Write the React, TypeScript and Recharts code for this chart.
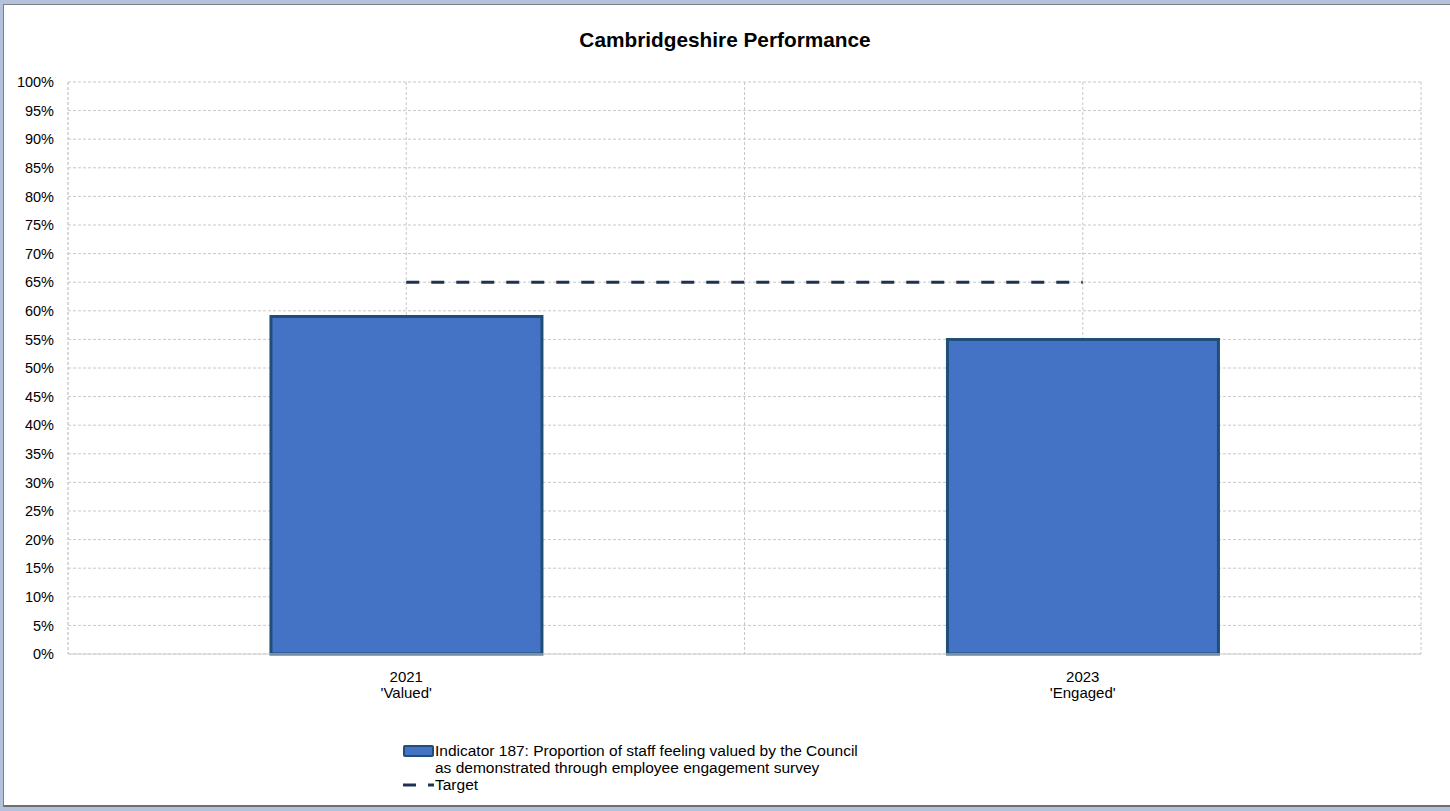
import React from 'react';
import { ComposedChart, Bar, Line, XAxis, YAxis, CartesianGrid } from 'recharts';

const categories = ["2021\n'Valued'", "2023\n'Engaged'"];
const indicatorValues = [59, 55];
const targetValues = [65, 65];
const yTicks = [0, 5, 10, 15, 20, 25, 30, 35, 40, 45, 50, 55, 60, 65, 70, 75, 80, 85, 90, 95, 100];
const gridPositions = [0, 0.5, 1, 1.5, 2];

const seriesNames = [
  'Indicator 187: Proportion of staff feeling valued by the Council',
  'as demonstrated through employee engagement survey',
  'Target',
];

const data = categories.map((c, i) => ({
  category: c,
  indicator: indicatorValues[i],
  target: targetValues[i],
  pos: i + 0.5,
}));

const FONT = '"Liberation Sans", Arial, sans-serif';
const BAR_FILL = '#4472C4';
const BAR_STROKE = '#1F4E79';
const TARGET = '#1F3251';

const XTick = (props: any) => {
  const { x, y, payload } = props;
  const lines = String(payload.value).split('\n');
  return (
    <g transform={`translate(${x},${y})`}>
      {lines.map((l, i) => (
        <text key={i} x={0} y={20 + i * 16} textAnchor="middle" fontSize={15} fill="#000" fontFamily={FONT}>
          {l}
        </text>
      ))}
    </g>
  );
};

const LegendBlock = () => (
  <div
    style={{
      position: 'absolute',
      left: 403,
      top: 742,
      fontFamily: FONT,
      fontSize: 15.5,
      color: '#000',
      lineHeight: '17px',
      width: 600,
    }}
  >
    <div style={{ display: 'flex', alignItems: 'center' }}>
      <span
        style={{
          display: 'inline-block',
          width: 27,
          height: 8,
          background: BAR_FILL,
          border: `2px solid ${BAR_STROKE}`,
          borderRadius: 2,
          marginRight: 1,
        }}
      />
      <span>{seriesNames[0]}</span>
    </div>
    <div style={{ paddingLeft: 32 }}>{seriesNames[1]}</div>
    <div style={{ display: 'flex', alignItems: 'center' }}>
      <svg width={32} height={10}>
        <line x1={0} y1={5} x2={31} y2={5} stroke={TARGET} strokeWidth={3} strokeDasharray="13 12" />
      </svg>
      <span>{seriesNames[2]}</span>
    </div>
  </div>
);

export default function App() {
  return (
    <div style={{ position: 'absolute', left: 0, top: 0, width: 1450, height: 811, background: '#b3c1dc' }}>
      <div
        style={{
          position: 'absolute',
          left: 3,
          top: 4,
          width: 1447,
          height: 803,
          background: '#fff',
          borderTop: '1px solid #7f7f7f',
          borderLeft: '1px solid #7f7f7f',
          borderBottom: '2px solid #6f6f6f',
          boxSizing: 'border-box',
        }}
      />
      <div
        style={{
          position: 'absolute',
          left: 0,
          top: 28,
          width: 1450,
          textAlign: 'center',
          fontFamily: FONT,
          fontWeight: 'bold',
          fontSize: 20.8,
          lineHeight: '24px',
          color: '#000',
        }}
      >
        Cambridgeshire Performance
      </div>
      <div style={{ position: 'absolute', left: 0, top: 0 }}>
        <ComposedChart
          width={1450}
          height={811}
          data={data}
          margin={{ top: 82, right: 29, bottom: 127, left: 8 }}
          barCategoryGap="30%"
        >
          <XAxis xAxisId="num" type="number" dataKey="pos" domain={[0, 2]} ticks={gridPositions} hide />
          <CartesianGrid xAxisId="num" stroke="#c8c8c8" strokeDasharray="3 2" />
          <XAxis
            dataKey="category"
            tick={<XTick />}
            tickLine={false}
            axisLine={{ stroke: '#d0d0d0' }}
            interval={0}
            height={30}
          />
          <YAxis
            domain={[0, 100]}
            ticks={yTicks}
            tickFormatter={(v: number) => `${v}%`}
            tick={{ fontSize: 14.5, fill: '#000', fontFamily: FONT }}
            tickLine={false}
            axisLine={{ stroke: '#d0d0d0', strokeDasharray: '3 2' }}
            width={60}
            interval={0}
            tickMargin={8}
          />
          <Bar dataKey="indicator" fill={BAR_FILL} stroke={BAR_STROKE} strokeWidth={3} isAnimationActive={false} />
          <Line
            dataKey="target"
            stroke={TARGET}
            strokeWidth={3}
            strokeDasharray="13 12"
            dot={false}
            activeDot={false}
            isAnimationActive={false}
          />
        </ComposedChart>
      </div>
      <LegendBlock />
    </div>
  );
}
